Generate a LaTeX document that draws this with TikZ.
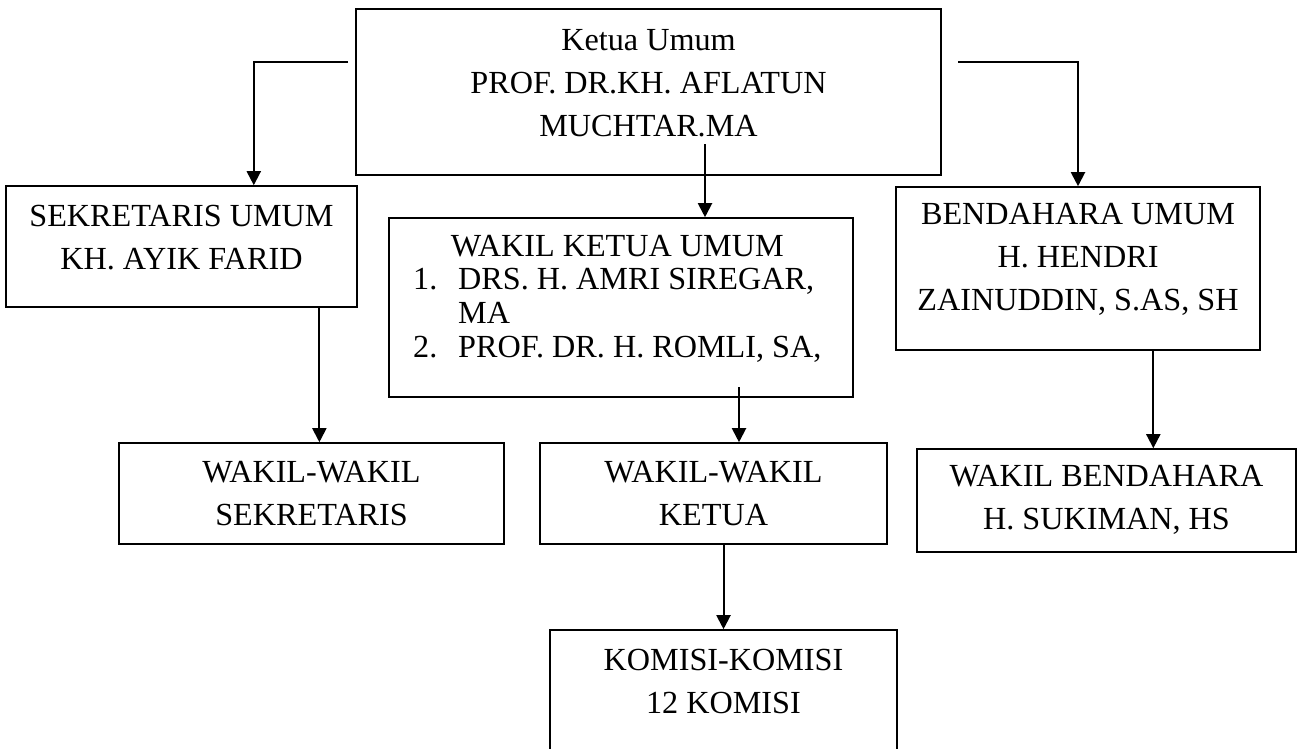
\documentclass[tikz,border=0pt]{standalone}
\usepackage{fontspec}
\setmainfont{Liberation Serif}
\usepackage{tikz}
\usetikzlibrary{calc,arrows.meta}
\tikzset{>={Triangle[width=14pt,length=14pt]}}
\tikzset{
  kotak/.style={draw,line width=1.6pt,inner sep=0pt},
  teks/.style={align=center,inner sep=0pt,font=\fontsize{32.2}{43}\selectfont},
  panah/.style={line width=2pt,->}
}

\begin{document}
\begin{tikzpicture}[x=1pt,y=-1pt]
      \useasboundingbox (0,0) rectangle (1297,748);
      \clip (0,0) rectangle (1297,748);
      % kotak
      \node[kotak,minimum width=585pt,minimum height=166pt] at (648.5,92) (ketua) {};
      \node[kotak,minimum width=351pt,minimum height=121pt] at (181.5,246.5) (sekum) {};
      \node[kotak,minimum width=464pt,minimum height=179pt] at (621,307.5) (wku) {};
      \node[kotak,minimum width=364pt,minimum height=163pt] at (1078,268.5) (bendum) {};
      \node[kotak,minimum width=385pt,minimum height=101pt] at (311.5,493.5) (wws) {};
      \node[kotak,minimum width=347pt,minimum height=101pt] at (713.5,493.5) (wwk) {};
      \node[kotak,minimum width=379pt,minimum height=103pt] at (1106.5,500.5) (wbend) {};
      \node[kotak,minimum width=347pt,minimum height=140pt] at (723.5,700) (komisi) {};
      % teks
      \node[teks] at (648.5,83) (ketuatx) {Ketua Umum\\PROF. DR.KH. AFLATUN\\MUCHTAR.MA};
      \node[teks] at (181.5,238) (sekumtx) {SEKRETARIS UMUM\\KH. AYIK FARID};
      \node[teks] at (1078,259.5) (bendumtx) {BENDAHARA UMUM\\H. HENDRI\\ZAINUDDIN, S.AS, SH};
      \node[inner sep=0pt,anchor=west,font=\fontsize{32.2}{33.7}\selectfont] at (413,300) (wkutx) {%
        \begin{tabular}{@{}l@{\hspace{20.8pt}}l@{}}
          \multicolumn{2}{c}{WAKIL KETUA UMUM}\\
          1. & DRS. H. AMRI SIREGAR,\\
             & MA\\
          2. & PROF. DR. H. ROMLI, SA,
        \end{tabular}};
      \node[teks] at (311.5,494) (wwstx) {WAKIL-WAKIL\\SEKRETARIS};
      \node[teks] at (713.5,493.5) (wwktx) {WAKIL-WAKIL\\KETUA};
      \node[teks] at (1106.5,499.5) (wbendtx) {WAKIL BENDAHARA\\H. SUKIMAN, HS};
      \node[teks] at (723.5,681) (komisitx) {KOMISI-KOMISI\\12 KOMISI};
      % garis
      \coordinate (kiri) at (348,62);
      \coordinate (kanan) at (958,62);
      \coordinate (tengah) at (705,144);
      \coordinate (wkuout) at (739,387);
      \coordinate (sekout) at ($(sekum.south west)!0.891!(sekum.south east)$);
      \coordinate (benout) at ($(bendum.south west)!0.706!(bendum.south east)$);
      \draw[panah] (kiri) -| ($(sekum.north west)!0.705!(sekum.north east)$);
      \draw[panah] (kanan) -| (bendum.north);
      \draw[panah] (tengah) -- (tengah |- wku.north);
      \draw[panah] (sekout) -- (sekout |- wws.north);
      \draw[panah] (wkuout) -- (wkuout |- wwk.north);
      \draw[panah] (komisi.north |- wwk.south) -- (komisi.north);
      \draw[panah] (benout) -- (benout |- wbend.north);
\end{tikzpicture}
\end{document}
